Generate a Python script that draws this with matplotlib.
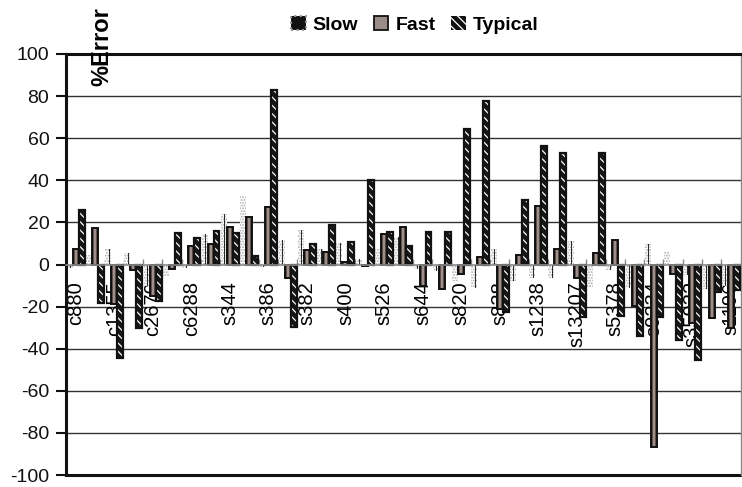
"""Grouped %Error bar chart: Slow / Fast / Typical per benchmark."""

import matplotlib

matplotlib.use("Agg")
import matplotlib.pyplot as plt
import numpy as np
from matplotlib.colors import LinearSegmentedColormap
from matplotlib.patches import Patch

plt.rcParams["font.family"] = ["Liberation Sans", "DejaVu Sans"]
plt.rcParams["hatch.linewidth"] = 0.9
plt.rcParams["axes.unicode_minus"] = False

# every other category carries a label in the original chart
shown_labels = [
    "c880", "c1355", "c2670", "c6288", "s344", "s386", "s382", "s400", "s526",
    "s644", "s820", "s838", "s1238", "s13207", "s5378", "s9234", "s35932", "s1196",
]
slow = [
    -1.5, 4.7, 7.4, 5.5, -10, -5.5, -1.5, 14.6, 24, 32.5, -1, 11.8,
    16.5, 7.4, 10.2, 2.4, 7.8, 13, -2, -3, -7.8, -11, 7.4, -7.8,
    -6.3, -6.3, 11.3, -11, -2.4, -11, 9.9, 6.5, -5, -11.8, -10,
]
fast = [
    7.5, 17.3, -19, -2.4, -15, -2, 8.9, 9.9, 17.6, 22.4, 27.5, -6.6,
    7, 6, 1, -0.8, 14.6, 17.6, -10.2, -11.8, -4.7, 3.6, -21, 4.4,
    27.8, 7.4, -6.3, 5.5, 11.5, -19.6, -86.5, -4.7, -28, -25.6, -30,
]
typical = [
    26, -18.5, -44.5, -30.3, -17.5, 14.9, 12.4, 15.7, 15.2, 3.9, 83, -29.5,
    9.9, 19, 10.8, 40, 15.5, 8.6, 15.4, 15.4, 64.5, 77.5, -22.7, 30.6,
    56.5, 53, -25, 53, -24.3, -34.2, -25, -36, -45.5, -13, -12,
]

n = len(slow)
x = np.arange(n)
w = 0.31

fig = plt.figure(figsize=(7.42, 4.87), dpi=100)
ax = fig.add_axes([66 / 742, 12 / 487, 674.5 / 742, 421 / 487])

# gridlines
for v in range(-80, 100, 20):
    if v != 0:
        ax.axhline(v, color="#333333", lw=1, zorder=0)
ax.axhline(-100, color="#111111", lw=2.2, zorder=0, clip_on=False)

# Slow: light stipple with a thin dark core
ax.bar(x - w, slow, width=w, facecolor="white", edgecolor="#a8a8a8",
       hatch="......", lw=0, zorder=2)
ax.bar(x - w + 0.05, slow, width=0.04, color="#2a2a2a", lw=0, zorder=2.1)

# Fast: black outline with gradient fill
fast_bars = ax.bar(x, fast, width=w, facecolor="none", edgecolor="#111111",
                   lw=1.4, zorder=3.1)
grad_cmap = LinearSegmentedColormap.from_list(
    "fastgrad", ["#241814", "#5e4d47", "#c4b8b3", "#5e4d47", "#241814"])
grad = np.linspace(0, 1, 32).reshape(1, -1)
for rect in fast_bars:
    x0, y0 = rect.get_x(), rect.get_y()
    y1 = y0 + rect.get_height()
    im = ax.imshow(grad, cmap=grad_cmap, aspect="auto", interpolation="bilinear",
                   extent=(x0, x0 + rect.get_width(), min(y0, y1), max(y0, y1)),
                   zorder=3)
    im.set_clip_path(rect)

# Typical: dark bar with fine white diagonal hatch
ax.bar(x + w, typical, width=w, facecolor="#161616", edgecolor="white",
       hatch="\\\\\\\\", lw=0, zorder=4)
ax.bar(x + w, typical, width=w, facecolor="none", edgecolor="#111111",
       lw=1.6, zorder=4.1)

ax.set_xlim(-0.5, n - 0.5)
ax.set_ylim(-100, 100)
ax.set_aspect("auto")

# spines
ax.spines["left"].set_linewidth(2.2)
ax.spines["left"].set_color("#111111")
ax.spines["top"].set_linewidth(2.2)
ax.spines["top"].set_color("#111111")
ax.spines["right"].set_linewidth(1)
ax.spines["right"].set_color("#888888")
ax.spines["bottom"].set_position(("data", 0))
ax.spines["bottom"].set_color("#8a8a8a")
ax.spines["bottom"].set_linewidth(1.2)
ax.spines["bottom"].set_zorder(5)

ax.set_yticks(range(-100, 101, 20))
ax.tick_params(axis="y", direction="out", length=7, width=1.5, labelsize=14,
               pad=5, colors="#111111")

ax.set_xticks(np.arange(0.5, n - 1, 1.0))
ax.tick_params(axis="x", which="major", direction="in", length=4, width=1,
               color="#8a8a8a", labelbottom=False)
ax.set_xticks(np.arange(0, n, 2), minor=True)
ax.set_xticklabels(shown_labels, minor=True, rotation=90, fontsize=14.5)
ax.tick_params(axis="x", which="minor", length=0, pad=12)

fig.text(102 / 742, 1 - 47 / 487, "%Error", rotation=90, ha="center",
         va="center", fontsize=17, fontweight="bold")

handles = [
    Patch(facecolor="#111111", edgecolor="#9a9a9a", linestyle=":", lw=1.5),
    Patch(facecolor="#9a8d88", edgecolor="#111111", lw=1.3),
    Patch(facecolor="#111111", edgecolor="white", hatch="\\\\\\\\", lw=0),
]
fig.legend(handles, ["Slow", "Fast", "Typical"], loc="center",
           bbox_to_anchor=(0.559, 0.949), ncol=3, frameon=False,
           prop={"weight": "bold", "size": 14}, handlelength=0.75,
           handleheight=0.75, handletextpad=0.35, columnspacing=0.8)

fig.savefig("out.png", dpi=100)
plt.close(fig)
